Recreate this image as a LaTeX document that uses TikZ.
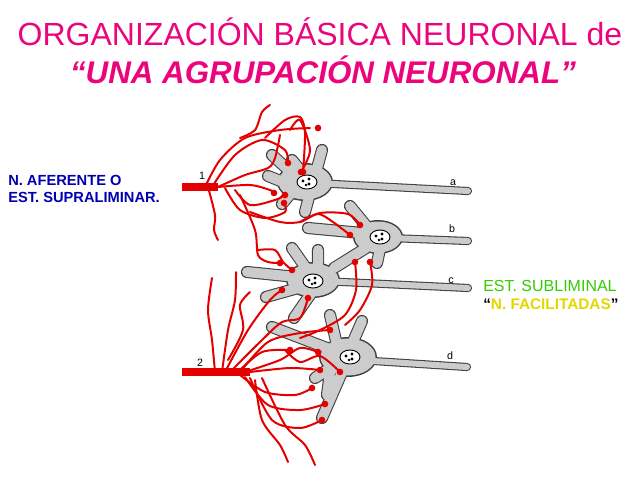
\documentclass[tikz,border=0pt]{standalone}
\usepackage{fontspec}
\setmainfont{Liberation Sans}
\begin{document}
\begin{tikzpicture}[x=0.75pt,y=-0.75pt,
  outl/.style={line width=#1+1.6pt,black!75,line cap=round},
  fil/.style={line width=#1,gray!40,line cap=round},
  fib/.style={red!90!black,line width=1.5pt,line cap=round},
  bou/.style={fill=red!90!black,draw=none,circle,inner sep=0pt,minimum size=5pt},
  lab/.style={font=\fontsize{8}{9}\selectfont,inner sep=0pt}]
\useasboundingbox (0,0) rectangle (640,480);
\fill[white] (0,0) rectangle (640,480);
% titles
\node[text=magenta!85!red,font=\fontsize{24}{27}\selectfont] (t1) at (320,32) {ORGANIZACIÓN BÁSICA NEURONAL de};
\node[text=magenta!85!red,font=\fontsize{23.5}{27}\selectfont\bfseries\itshape] (t2) at (323,70) {“UNA AGRUPACIÓN NEURONAL”};
\node[text=blue!70!black,font=\fontsize{11}{13}\selectfont\bfseries,align=left,anchor=west,inner sep=0pt] (l1) at (8,189) {N. AFERENTE O\\EST. SUPRALIMINAR.};
\node[text=green!60!olive,font=\fontsize{12}{13}\selectfont,anchor=west,inner sep=0pt] (r1) at (483,286) {EST. SUBLIMINAL};
\node[font=\fontsize{11.5}{13}\selectfont\bfseries,anchor=west,inner sep=0pt] (r2) at (483,304) {“\textcolor{yellow!75!olive}{N. FACILITADAS}”};
% neurons geometry
\def\dA{(295,176)--(272,155) (316,172)--(322,150) (288,184)--(268,176) (292,192)--(282,204) (310,193)--(305,212) (300,170)--(292,160)}
\def\dB{(362,233)--(308,228) (368,228)--(350,206) (366,248)--(334,268) (380,249)--(377,263)}
\def\dC{(296,277)--(247,272) (298,288)--(266,297) (306,268)--(292,248) (318,268)--(318,250) (312,292)--(294,318)}
\def\dD{(332,350)--(272,327) (337,345)--(330,315) (352,344)--(362,321) (333,366)--(315,378) (343,370)--(322,418) (330,372)--(327,395)}
\def\ax{(315,183)--(468,191) (390,238)--(468,241) (322,281)--(468,288) (358,360)--(467,367)}
\foreach \p in {\dA,\dB,\dC,\dD} {\draw[outl=7.5pt] \p;}
\draw[outl=4.5pt] \ax;
\fill[black!75] (305,182) ellipse (28 and 19) (378,237) ellipse (25 and 17) (313,280) ellipse (27 and 18) (348,357) ellipse (29 and 20);
\foreach \p in {\dA,\dB,\dC,\dD} {\draw[fil=7.5pt] \p;}
\draw[fil=4.5pt] \ax;
\fill[gray!40] (305,182) ellipse (26.5 and 17.5) (378,237) ellipse (23.5 and 15.5) (313,280) ellipse (25.5 and 16.5) (348,357) ellipse (27.5 and 18.5);
\foreach \c in {(307,182),(380,237),(313,281),(350,357)} {
  \draw[black,fill=white,line width=0.7pt] \c ellipse (10 and 7);
  \fill[black] \c ++(-4,-1) circle (1.6) \c ++(2,-3) circle (1.6) \c ++(2,2) circle (1.6) \c ++(-1,3) circle (1.3);}
% fibers trunk
\draw[red!90!black,line width=6pt] (182,187) -- (218,187);
\draw[red!90!black,line width=6pt] (182,372) -- (250,372);
% fiber 1 branches
\draw[fib] plot[smooth] coordinates {(205,187)(220,160)(245,138)(280,130)(310,128)};
\draw[fib] plot[smooth] coordinates {(212,187)(235,155)(262,140)(285,150)(288,163)};
\draw[fib] plot[smooth] coordinates {(218,187)(245,175)(268,168)(275,158)(280,135)};
\draw[fib] plot[smooth] coordinates {(218,187)(250,185)(270,190)(274,193)};
\draw[fib] plot[smooth] coordinates {(208,187)(215,215)(214,230)(218,240)};
\draw[fib] plot[smooth] coordinates {(225,188)(240,210)(265,218)(285,212)(284,203)};
\draw[fib] plot[smooth] coordinates {(235,190)(250,205)(275,200)(285,195)};
\draw[fib] plot[smooth] coordinates {(240,138)(255,130)(262,112)(270,105)};
\draw[fib] plot[smooth] coordinates {(265,138)(285,120)(300,117)(305,133)(303,172)};
\draw[fib] plot[smooth] coordinates {(290,130)(300,120)(310,150)(301,172)};
\draw[fib] plot[smooth] coordinates {(240,195)(255,230)(258,255)(268,262)(280,263)};
\draw[fib] plot[smooth] coordinates {(258,250)(275,250)(283,262)(292,270)};
\draw[fib] plot[smooth] coordinates {(250,212)(280,222)(300,222)(318,214)(333,222)(350,235)};
\draw[fib] plot[smooth] coordinates {(300,222)(320,213)(348,214)(360,225)};
\draw[fib] plot[smooth] coordinates {(355,262)(356,290)(345,315)(320,330)(300,338)};
\draw[fib] plot[smooth] coordinates {(370,262)(372,285)(360,310)(345,325)};
% fiber 2 branches
\draw[fib] plot[smooth] coordinates {(225,372)(248,330)(270,300)(282,290)};
\draw[fib] plot[smooth] coordinates {(230,372)(262,340)(282,322)(300,318)(308,298)};
\draw[fib] plot[smooth] coordinates {(238,372)(262,352)(290,350)};
\draw[fib] plot[smooth] coordinates {(240,372)(268,342)(300,333)(330,330)};
\draw[fib] plot[smooth] coordinates {(245,372)(280,360)(300,348)(318,352)};
\draw[fib] plot[smooth] coordinates {(250,372)(290,368)(320,370)};
\draw[fib] plot[smooth] coordinates {(240,375)(265,392)(295,395)(312,388)};
\draw[fib] plot[smooth] coordinates {(245,377)(268,405)(300,410)(325,404)};
\draw[fib] plot[smooth] coordinates {(250,378)(272,420)(300,428)(322,420)};
\draw[fib] plot[smooth] coordinates {(255,380)(262,420)(280,445)(288,462)};
\draw[fib] plot[smooth] coordinates {(262,378)(285,425)(305,445)(315,465)};
\draw[fib] plot[smooth] coordinates {(215,372)(212,340)(208,310)(212,278)};
\draw[fib] plot[smooth] coordinates {(222,372)(228,330)(235,300)(236,272)};
\draw[fib] plot[smooth] coordinates {(228,360)(243,330)(240,305)(250,292)};
\draw[fib] plot[smooth] coordinates {(285,350)(300,362)(320,356)(340,372)};
% boutons
\foreach \b in {(288,163),(274,193),(284,203),(285,195),(303,172),(301,172),(280,263),(292,270),(350,235),(360,225),(355,262),(370,262),(282,290),(308,298),(290,350),(330,330),(318,352),(320,370),(312,388),(325,404),(322,420),(340,372),(318,128)} {\node[bou] at \b {};}
% labels
\node[lab] (n1) at (202,176) {1};
\node[lab] (n2) at (200,363) {2};
\node[lab] (na) at (453,183) {a};
\node[lab] (nb) at (452,229) {b};
\node[lab] (nc) at (451,281) {c};
\node[lab] (nd) at (450,356) {d};
\end{tikzpicture}
\end{document}
